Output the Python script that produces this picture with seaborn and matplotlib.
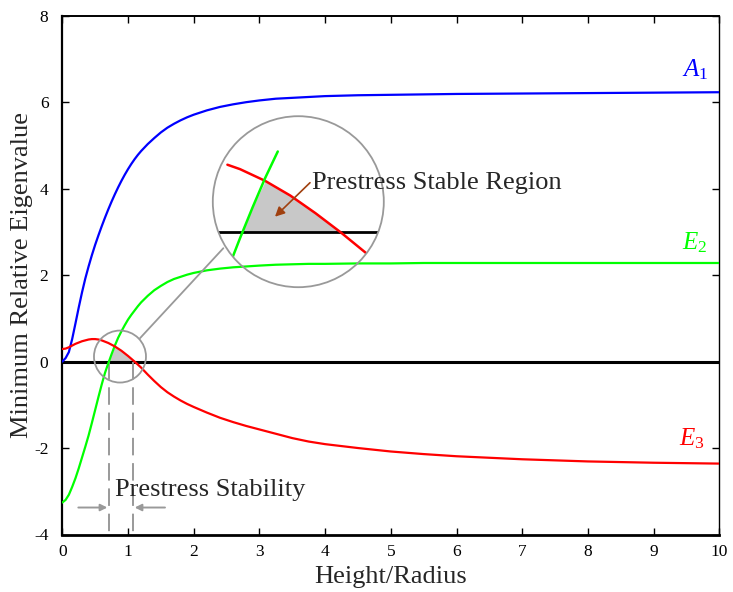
import numpy as np
import pandas as pd
import matplotlib
matplotlib.use("Agg")
import matplotlib.pyplot as plt
import seaborn as sns
from matplotlib.patches import Ellipse, Circle

# ---------------- data ----------------
height_radius = [0, 0.05, 0.1, 0.15, 0.2, 0.25, 0.3, 0.35, 0.4, 0.45, 0.5, 0.55, 0.6, 0.65,
                 0.7, 0.75, 0.8, 0.85, 0.9, 0.95, 1.0, 1.05, 1.1, 1.15, 1.2, 1.3, 1.4, 1.5,
                 1.6, 1.7, 1.8, 1.9, 2.0, 2.2, 2.4, 2.6, 2.8, 3.0, 3.25, 3.5, 3.75, 4.0,
                 4.5, 5.0, 5.5, 6.0, 7.0, 8.0, 9.0, 10.0]
eig_A1 = [0.0, 0.08, 0.22, 0.52, 0.88, 1.25, 1.6, 1.92, 2.2, 2.46, 2.7, 2.92, 3.13, 3.33,
          3.52, 3.7, 3.87, 4.03, 4.18, 4.32, 4.45, 4.57, 4.68, 4.78, 4.87, 5.03, 5.17, 5.3,
          5.41, 5.5, 5.58, 5.65, 5.71, 5.81, 5.89, 5.95, 6.0, 6.04, 6.08, 6.1, 6.12, 6.14,
          6.16, 6.17, 6.18, 6.19, 6.2, 6.21, 6.22, 6.23]
eig_E2 = [-3.26, -3.2, -3.08, -2.9, -2.7, -2.47, -2.22, -1.97, -1.71, -1.42, -1.12, -0.82,
          -0.53, -0.26, -0.04, 0.17, 0.37, 0.55, 0.7, 0.84, 0.97, 1.08, 1.18, 1.28, 1.37,
          1.52, 1.65, 1.75, 1.84, 1.91, 1.96, 2.01, 2.05, 2.11, 2.15, 2.18, 2.2, 2.22, 2.24,
          2.25, 2.26, 2.26, 2.27, 2.27, 2.28, 2.28, 2.28, 2.28, 2.28, 2.28]
eig_E3 = [0.29, 0.3, 0.33, 0.37, 0.41, 0.44, 0.47, 0.49, 0.51, 0.52, 0.52, 0.51, 0.49, 0.46,
          0.43, 0.39, 0.35, 0.3, 0.25, 0.19, 0.13, 0.065, 0.0, -0.07, -0.14, -0.3, -0.45,
          -0.59, -0.71, -0.81, -0.9, -0.98, -1.05, -1.18, -1.3, -1.4, -1.49, -1.57, -1.67,
          -1.77, -1.85, -1.91, -2.0, -2.08, -2.14, -2.19, -2.26, -2.31, -2.34, -2.36]

series_keys = ["A1", "E2", "E3"]
series_labels = [r"$A_1$", r"$E_2$", r"$E_3$"]
series_colors = ["#0000FF", "#00FF00", "#FF0000"]
x_ticks = [0, 1, 2, 3, 4, 5, 6, 7, 8, 9, 10]
y_ticks = [-4, -2, 0, 2, 4, 6, 8]
stability_bounds = [0.715, 1.072]

# ---------------- style ----------------
sns.set_style("ticks")
plt.rcParams["font.family"] = ["Liberation Serif", "DejaVu Serif"]
plt.rcParams["mathtext.fontset"] = "custom"
plt.rcParams["mathtext.rm"] = "Liberation Serif"
plt.rcParams["mathtext.it"] = "Liberation Serif:italic"
plt.rcParams["axes.unicode_minus"] = False

W, H = 733, 592
fig = plt.figure(figsize=(W / 100, H / 100), dpi=100)
ax = fig.add_axes([62.3 / W, 1 - 534.5 / H, (719.3 - 62.3) / W, (534.5 - 15.7) / H])

df = pd.DataFrame({
    "x": height_radius * 3,
    "value": eig_A1 + eig_E2 + eig_E3,
    "series": sum([[k] * len(height_radius) for k in series_keys], []),
})
palette = dict(zip(series_keys, series_colors))

x = np.array(height_radius)
e2 = np.array(eig_E2)
e3 = np.array(eig_E3)
ymin = np.minimum(e2, e3)

ax.fill_between(x, 0, ymin, where=ymin > 0, interpolate=True, color="#c8c8c8",
                lw=0, zorder=1)
ax.axhline(0, color="black", lw=2.2, zorder=2)
sns.lineplot(data=df, x="x", y="value", hue="series", palette=palette, legend=False,
             lw=1.6, ax=ax, zorder=3)

ax.set_xlim(0, 10)
ax.set_ylim(-4, 8)
ax.set_xticks(x_ticks)
ax.set_yticks(y_ticks)
ax.set_xticklabels([str(t) for t in x_ticks])
ax.set_yticklabels([str(t) for t in y_ticks])
ax.tick_params(direction="in", length=5, width=1, top=True, right=True,
               labelsize=12.5, colors="black")
ax.tick_params(axis="x", pad=7)
ax.tick_params(axis="y", pad=10)
for side, lw in [("left", 1.6), ("bottom", 2.0), ("top", 1.4), ("right", 1.0)]:
    ax.spines[side].set_linewidth(lw)
    ax.spines[side].set_color("black")
ax.set_xlabel("Height/Radius", fontsize=19, labelpad=4)
ax.set_ylabel("Minimum Relative Eigenvalue", fontsize=19, labelpad=1)

# series labels
label_pos = [(9.63, 6.76), (9.62, 2.76), (9.58, -1.79)]
for lab, col, (lx, ly) in zip(series_labels, series_colors, label_pos):
    ax.text(lx, ly, lab, color=col, fontsize=18, ha="center", va="center")

# stability bounds
for b in stability_bounds:
    ax.plot([b, b], [0, -4], color="#999999", lw=1.4, dashes=(9, 4), zorder=2,
            clip_on=False)
ax.annotate("", xy=(stability_bounds[0] - 0.03, -3.376), xytext=(0.244, -3.376),
            arrowprops=dict(arrowstyle="-|>", color="#999999", lw=1.4, mutation_scale=10,
                            shrinkA=0, shrinkB=0))
ax.annotate("", xy=(stability_bounds[1] + 0.03, -3.376), xytext=(1.563, -3.376),
            arrowprops=dict(arrowstyle="-|>", color="#999999", lw=1.4, mutation_scale=10,
                            shrinkA=0, shrinkB=0))
ax.text(0.80, -2.966, "Prestress Stability", fontsize=19, ha="left", va="center")

# small circle + connector
ax.add_patch(Ellipse((0.878, 0.116), 2 * 26 / 65.7, 2 * 26 / 43.25, fill=False,
                     edgecolor="#999999", lw=1.3, zorder=4))
ax.plot([1.183, 2.451], [0.541, 2.622], color="#999999", lw=1.3, zorder=4)

# ---------------- inset ----------------
axin = fig.add_axes([212.8 / W, 1 - 287.2 / H, 171 / W, 171 / H])
axin.set_xlim(0.592, 1.271)
axin.set_ylim(-0.373, 0.79)
axin.axis("off")
axin.patch.set_alpha(0)
clip = Circle((0.5, 0.5), 0.5, transform=axin.transAxes)

red_mask = (x >= 0.65) & (x <= 1.2)
green_mask = (x >= 0.65) & (x <= 0.85)
f = axin.fill_between(x, 0, ymin, where=ymin > 0, interpolate=True, color="#c8c8c8",
                      lw=0, zorder=1)
f.set_clip_path(clip)
hl = axin.axhline(0, color="black", lw=2.0, zorder=2)
hl.set_clip_path(clip)
sns.lineplot(x=x[red_mask], y=e3[red_mask], color=series_colors[2], lw=1.8, ax=axin,
             zorder=3)
sns.lineplot(x=x[green_mask], y=e2[green_mask], color=series_colors[1], lw=1.8, ax=axin,
             zorder=3)
for ln in axin.lines:
    ln.set_clip_path(clip)
axin.add_patch(Circle((0.5, 0.5), 0.5, transform=axin.transAxes, fill=False,
                      edgecolor="#999999", lw=1.3, clip_on=False, zorder=5))
axin.set_xlabel("")
axin.set_ylabel("")

axin.annotate("", xy=(275, H - 216.7), xytext=(310, H - 182.7),
              xycoords="figure pixels", textcoords="figure pixels",
              arrowprops=dict(arrowstyle="-|>", color="#A0400F", lw=1.2, mutation_scale=14,
                              shrinkA=0, shrinkB=0), annotation_clip=False, zorder=6)
fig.text(311.7 / W, 1 - 182.7 / H, "Prestress Stable Region", fontsize=19,
         ha="left", va="center")

fig.savefig("out.png", dpi=100)
